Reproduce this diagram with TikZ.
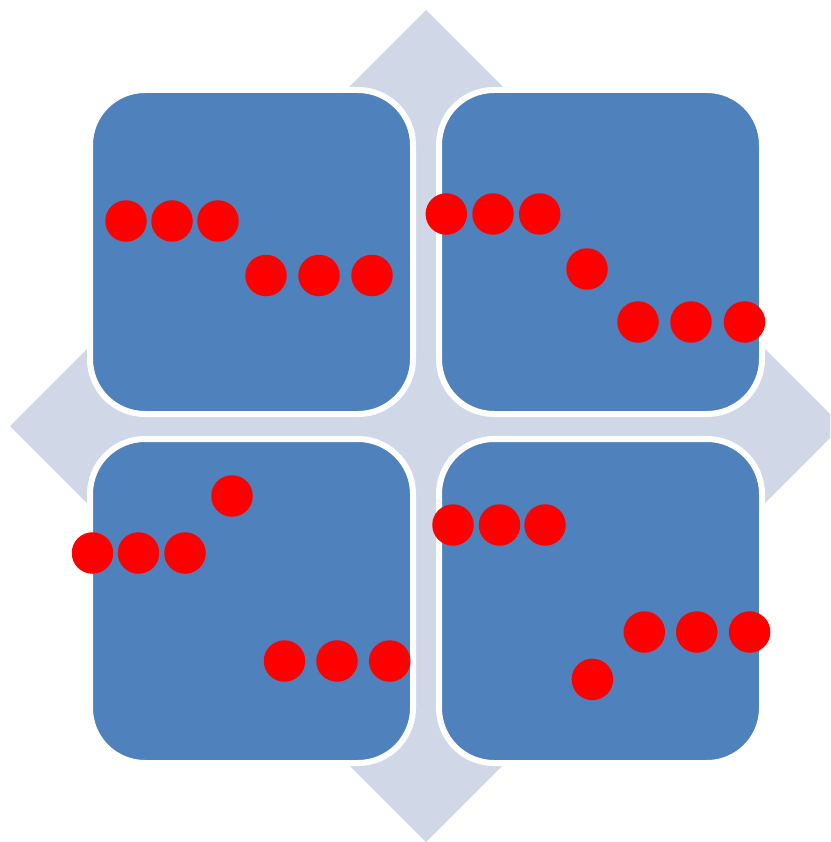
\documentclass[tikz,border=0pt]{standalone}
\usetikzlibrary{shapes.geometric}
\definecolor{boxblue}{HTML}{4F81BD}
\definecolor{diamondgray}{HTML}{D0D8E8}
\tikzset{
  quadbox/.style={rectangle, rounded corners=55pt, fill=boxblue, draw=white, line width=6pt, minimum width=323pt, minimum height=324pt, inner sep=0pt},
  dot/.style={circle, fill=red, draw=none, minimum size=41.5pt, inner sep=0pt},
}
\begin{document}
\begin{tikzpicture}[x=1pt,y=-1pt]
\useasboundingbox (0,0) rectangle (830,842);
\clip (0,0) rectangle (830,842);
\fill[white] (0,0) rectangle (830,842);
% background diamond
\coordinate (dt) at (426,10);
\coordinate (dr) at (842,426);
\coordinate (db) at (426,842);
\coordinate (dl) at (10,426);
\fill[diamondgray] (dt) -- (dr) -- (db) -- (dl) -- cycle;
% four boxes
\node[quadbox] (tl) at (251.5,252) {};
\node[quadbox] (tr) at (600.5,252) {};
\node[quadbox] (bl) at (251.5,601) {};
\node[quadbox] (br) at (600.5,601) {};
% top-left dots
\node[dot] (tl1) at (126,221) {};
\node[dot] (tl2) at (172,221) {};
\node[dot] (tl3) at (218,221) {};
\node[dot] (tl4) at (266,275.5) {};
\node[dot] (tl5) at (319,275.5) {};
\node[dot] (tl6) at (372,275.5) {};
% top-right dots
\node[dot] (tr1) at (446.3,214) {};
\node[dot] (tr2) at (493,214) {};
\node[dot] (tr3) at (539.7,214) {};
\node[dot] (tr4) at (587,269) {};
\node[dot] (tr5) at (638,322) {};
\node[dot] (tr6) at (691,322) {};
\node[dot] (tr7) at (744.5,322) {};
% bottom-left dots
\node[dot] (bl1) at (232,496) {};
\node[dot] (bl2) at (92.5,553) {};
\node[dot] (bl3) at (138.5,553) {};
\node[dot] (bl4) at (185,553) {};
\node[dot] (bl5) at (284.5,661) {};
\node[dot] (bl6) at (337,661) {};
\node[dot] (bl7) at (389.7,661) {};
% bottom-right dots
\node[dot] (br1) at (453,525) {};
\node[dot] (br2) at (499.5,525) {};
\node[dot] (br3) at (545,525) {};
\node[dot] (br4) at (644.3,632) {};
\node[dot] (br5) at (696.7,632) {};
\node[dot] (br6) at (749.6,632) {};
\node[dot] (br7) at (592.4,679.4) {};
\end{tikzpicture}
\end{document}
